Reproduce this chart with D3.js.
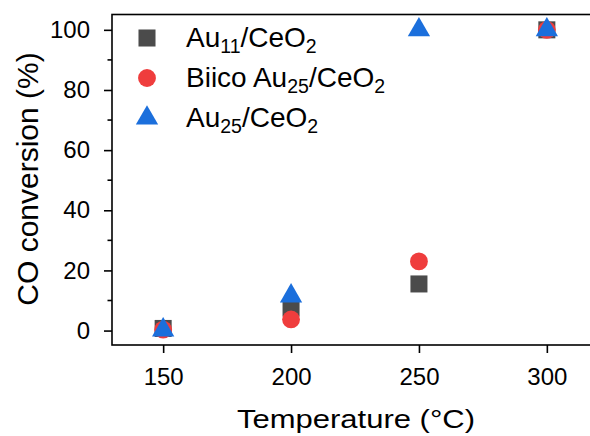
<!DOCTYPE html>
<html>
<head>
<meta charset="utf-8">
<script src="https://cdn.jsdelivr.net/npm/d3@7"></script>
<style>
  body { margin: 0; background: #fff; }
  text { font-family: "Liberation Sans", Arial, sans-serif; fill: #000; }
</style>
</head>
<body>
<svg width="590" height="436"></svg>
<script>
let width = 590;
let height = 436;

// data
let temperatures = [150, 200, 250, 300];
let au11 = [0.7, 7.5, 15.5, 100];
let biico = [0.3, 3.7, 23, 100];
let au25 = [0.2, 11.5, 100, 100];
let xTicks = [150, 200, 250, 300];
let yTicks = [0, 20, 40, 60, 80, 100];
let yMinor = [10, 30, 50, 70, 90];

let series = [
  { name: 'Au', sub: '11', rest: '/CeO', sub2: '2', pre: '', values: au11, shape: d3.symbolSquare, size: 290, color: '#4b4b4b' },
  { name: 'Au', sub: '25', rest: '/CeO', sub2: '2', pre: 'Biico ', values: biico, shape: d3.symbolCircle, size: 250, color: '#ef3d3d' },
  { name: 'Au', sub: '25', rest: '/CeO', sub2: '2', pre: '', values: au25, shape: d3.symbolTriangle, size: 215, color: '#1b6fdc' }
];

let pl = 112, pr = 598, pt = 14.5, pb = 345;

let x = d3.scaleLinear().domain([130, 320]).range([pl, pr]);
let y = d3.scaleLinear().domain([-4.8, 105.1]).range([pb, pt]);

let svg = d3.select('svg');

// frame
svg.append('rect')
  .attr('x', pl).attr('y', pt)
  .attr('width', pr - pl).attr('height', pb - pt)
  .attr('fill', 'none').attr('stroke', '#000').attr('stroke-width', 1.6);

// x axis
let xAxis = svg.append('g')
  .attr('transform', `translate(0,${pb})`)
  .call(d3.axisBottom(x).tickValues(xTicks).tickSize(8).tickPadding(15).tickFormat(d3.format('d')));
xAxis.select('.domain').remove();
xAxis.selectAll('line').attr('stroke-width', 1.6);
xAxis.selectAll('text').attr('font-size', 24).attr('font-family', '"Liberation Sans", Arial, sans-serif');

// y axis
let yAxis = svg.append('g')
  .attr('transform', `translate(${pl},0)`)
  .call(d3.axisLeft(y).tickValues(yTicks).tickSize(8).tickPadding(14).tickFormat(d3.format('d')));
yAxis.select('.domain').remove();
yAxis.selectAll('line').attr('stroke-width', 1.6);
yAxis.selectAll('text').attr('font-size', 24).attr('font-family', '"Liberation Sans", Arial, sans-serif');

svg.append('g')
  .selectAll('line')
  .data(yMinor)
  .enter()
    .append('line')
    .attr('x1', pl - 4.5).attr('x2', pl)
    .attr('y1', d => y(d)).attr('y2', d => y(d))
    .attr('stroke', '#000').attr('stroke-width', 1.6);

// axis titles
svg.append('text')
  .attr('x', 356).attr('y', 428)
  .attr('text-anchor', 'middle').attr('font-size', 26)
  .attr('textLength', 238).attr('lengthAdjust', 'spacingAndGlyphs')
  .text('Temperature (°C)');

svg.append('text')
  .attr('transform', 'translate(38,179) rotate(-90)')
  .attr('text-anchor', 'middle').attr('font-size', 30)
  .text('CO conversion (%)');

// points
series.forEach(s => {
  svg.append('g')
    .selectAll('path')
    .data(s.values)
    .enter()
      .append('path')
      .attr('d', d3.symbol().type(s.shape).size(s.size))
      .attr('transform', (d, i) => `translate(${x(temperatures[i])},${y(d)})`)
      .attr('fill', s.color);
});

// legend
let legend = svg.append('g');
series.forEach((s, i) => {
  let cy = 38 + i * 40;
  legend.append('path')
    .attr('d', d3.symbol().type(s.shape).size(s.size))
    .attr('transform', `translate(147,${cy})`)
    .attr('fill', s.color);
  let t = legend.append('text')
    .attr('x', 186).attr('y', cy + 8.5)
    .attr('font-size', 28);
  t.append('tspan').text(s.pre + s.name);
  t.append('tspan').attr('font-size', 19.5).attr('dy', 6.5).text(s.sub);
  t.append('tspan').attr('dy', -6.5).text(s.rest);
  t.append('tspan').attr('font-size', 19.5).attr('dy', 6.5).text(s.sub2);
});
</script>
</body>
</html>
